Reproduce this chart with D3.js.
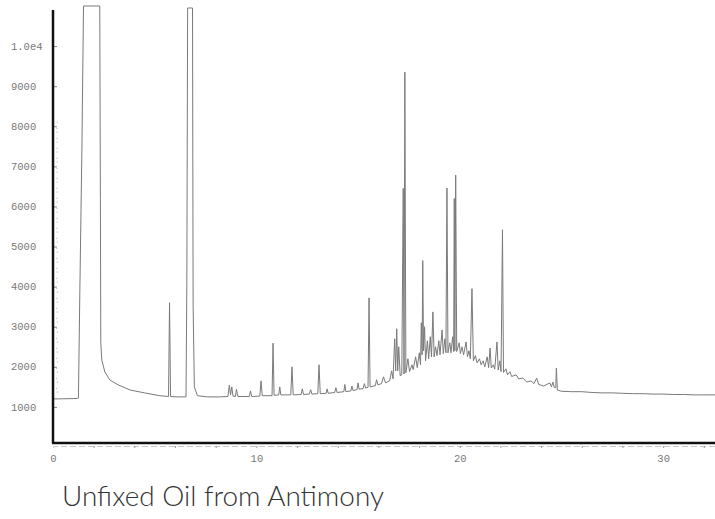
<!DOCTYPE html>
<html><head><meta charset="utf-8">
<script src="https://cdn.jsdelivr.net/npm/d3@7"></script>
<style>body{margin:0;background:#fff}svg{display:block}</style>
</head><body><svg id="c" width="715" height="519"></svg>
<script>
// Retention time (minutes) and detector response
const retentionTime = [
 0.00,0.25,1.20,1.25,1.32,1.42,1.50,2.30,2.33,2.35,2.40,2.55,2.80,3.20,3.80,4.50,5.25,
 5.68,5.73,5.78,6.10,6.54,6.58,6.62,6.86,6.89,6.95,7.10,7.60,8.20,
 8.60,8.67,8.73,8.79,8.85,8.97,9.02,9.09,9.65,9.71,9.77,10.17,10.23,10.29,10.77,10.82,10.87,
 11.10,11.15,11.20,11.69,11.75,11.81,12.20,12.26,12.32,12.60,12.67,12.73,13.02,13.08,13.14,
 13.43,13.48,13.53,13.85,13.91,13.97,14.30,14.35,14.40,14.65,14.70,14.75,14.95,15.00,15.05,
 15.25,15.31,15.37,15.49,15.54,15.59,15.85,15.91,15.97,16.15,16.25,16.35,16.55,16.65,16.72,
 16.80,16.85,16.90,16.95,17.00,17.07,17.15,17.22,17.26,17.30,17.35,17.45,17.53,17.65,17.71,
 17.83,17.91,18.01,18.07,18.11,18.15,18.18,18.22,18.27,18.32,18.41,18.47,18.55,18.61,18.68,
 18.74,18.81,18.88,18.97,19.03,19.13,19.19,19.27,19.32,19.37,19.42,19.51,19.57,19.65,19.70,
 19.73,19.76,19.80,19.85,19.97,20.03,20.11,20.19,20.31,20.38,20.45,20.52,20.60,20.67,20.77,
 20.85,20.97,21.05,21.15,21.23,21.35,21.42,21.49,21.55,21.65,21.72,21.83,21.89,21.97,22.03,
 22.10,22.15,22.27,22.35,22.47,22.55,22.77,22.90,23.10,23.30,23.50,23.65,23.78,23.88,24.13,
 24.43,24.51,24.58,24.65,24.72,24.75,24.80,25.00,25.50,26.00,26.50,27.00,27.50,28.00,28.50,
 29.00,29.50,30.00,30.50,31.00,31.50,32.00,32.55
];
const intensity = [
 1200,1200,1210,1220,3900,7400,11000,11000,6200,2600,2170,1870,1670,1550,1420,1350,1280,
 1260,3600,1260,1250,1250,4000,10950,10950,3500,1500,1280,1250,1250,
 1260,1540,1300,1500,1270,1260,1440,1260,1260,1400,1260,1270,1650,1280,1280,2590,1290,
 1300,1500,1300,1300,2000,1300,1310,1450,1310,1320,1430,1320,1330,2050,1330,
 1340,1450,1340,1360,1480,1360,1380,1560,1380,1400,1520,1410,1430,1600,1440,
 1460,1580,1470,1490,3720,1500,1530,1680,1550,1580,1750,1600,1650,1900,1700,
 2700,1900,2950,1900,2500,1780,1800,6450,1820,9350,1850,2200,1880,2050,1930,
 2250,1980,2350,2050,3100,2300,4650,2400,3000,2150,2650,2200,2750,2250,3370,
 2250,2500,2280,2650,2300,2920,2330,2700,2350,6460,2350,2600,2350,2750,2380,
 6200,2400,6780,2380,2600,2330,2500,2300,2620,2250,2400,2200,3950,2150,2280,
 2100,2200,2050,2150,2000,2250,1980,2470,1970,2050,1940,2620,1920,2150,1880,
 5420,1860,1950,1800,1880,1760,1800,1700,1720,1620,1650,1580,1720,1560,1520,
 1600,1500,1620,1480,1480,1970,1420,1390,1380,1380,1360,1350,1350,1340,1330,
 1330,1320,1320,1310,1310,1300,1300,1300
];
// faint injection pulse near the start (drawn dotted, as in the scan)
const injectionTime = [0.18, 0.20, 0.22];
const injectionIntensity = [1200, 8150, 1200];
const yTickValues = [1000,2000,3000,4000,5000,6000,7000,8000,9000,10000];
const yTickLabels = ["1000","2000","3000","4000","5000","6000","7000","8000","9000","1.0e4"];
const xTickValues = [0,10,20,30];
const xMinorTicks = [2,4,6,8,10,12,14,16,18,20,22,24,26,28,30,32];
const title = "Unfixed Oil from Antimony";

const svg = d3.select("#c");
const x = d3.scaleLinear().domain([0, 32.55]).range([53, 715]);
const y = d3.scaleLinear().domain([100, 10900]).range([443, 10]);
const line = d3.line().x(d => x(d[0])).y(d => y(d[1]));

// trace
const pts = retentionTime.map((t, i) => [t, intensity[i]]);
svg.append("path").datum(pts)
  .attr("d", line)
  .attr("fill", "none").attr("stroke", "#7a7a7a").attr("stroke-width", 1);

const inj = injectionTime.map((t, i) => [t, injectionIntensity[i]]);
svg.append("path").datum(inj)
  .attr("d", line)
  .attr("fill", "none").attr("stroke", "#aaa").attr("stroke-width", 1)
  .attr("stroke-dasharray", "1,9");

// minor x ticks below axis (faint dotted rule)
const minor = svg.append("g").attr("transform", "translate(0,446)")
  .call(d3.axisBottom(x).tickValues(xMinorTicks).tickSize(2).tickFormat(""));
minor.select(".domain").attr("stroke", "#bbb").attr("stroke-dasharray", "6,3").attr("stroke-width", 0.8);
minor.selectAll(".tick line").attr("stroke", "#999");

// y axis with inward ticks
const ya = svg.append("g").attr("transform", "translate(53,0)")
  .call(d3.axisRight(y).tickValues(yTickValues).tickSize(4).tickFormat(""));
ya.select(".domain").remove();
ya.selectAll(".tick line").attr("stroke", "#888");

// axis lines
svg.append("line").attr("x1", 53).attr("x2", 53).attr("y1", y(10900)).attr("y2", y(100))
  .attr("stroke", "#111").attr("stroke-width", 2.5);
svg.append("line").attr("x1", 52).attr("x2", x(32.55)).attr("y1", y(100)).attr("y2", y(100))
  .attr("stroke", "#111").attr("stroke-width", 2.5);

// y labels
svg.append("g").selectAll("text").data(yTickValues).join("text")
  .attr("x", 11).attr("y", d => y(d)).attr("dy", "0.35em")
  .attr("font-family", "Liberation Mono, DejaVu Sans Mono, monospace")
  .attr("font-size", 10.5).attr("fill", "#777")
  .text((d, i) => yTickLabels[i]);

// x labels
const xa = svg.append("g").attr("transform", "translate(0,452)")
  .call(d3.axisBottom(x).tickValues(xTickValues).tickSize(0).tickPadding(3).tickFormat(d3.format("d")));
xa.select(".domain").remove();
xa.selectAll("text").attr("font-family", "Liberation Mono, DejaVu Sans Mono, monospace")
  .attr("font-size", 10.5).attr("fill", "#777");

// title
svg.append("text").attr("x", 62).attr("y", 506)
  .attr("font-family", "Lato, Open Sans, sans-serif").attr("font-weight", 300)
  .attr("font-size", 28).attr("fill", "#333")
  .attr("textLength", 322).attr("lengthAdjust", "spacingAndGlyphs")
  .text(title);
</script>
</body></html>
